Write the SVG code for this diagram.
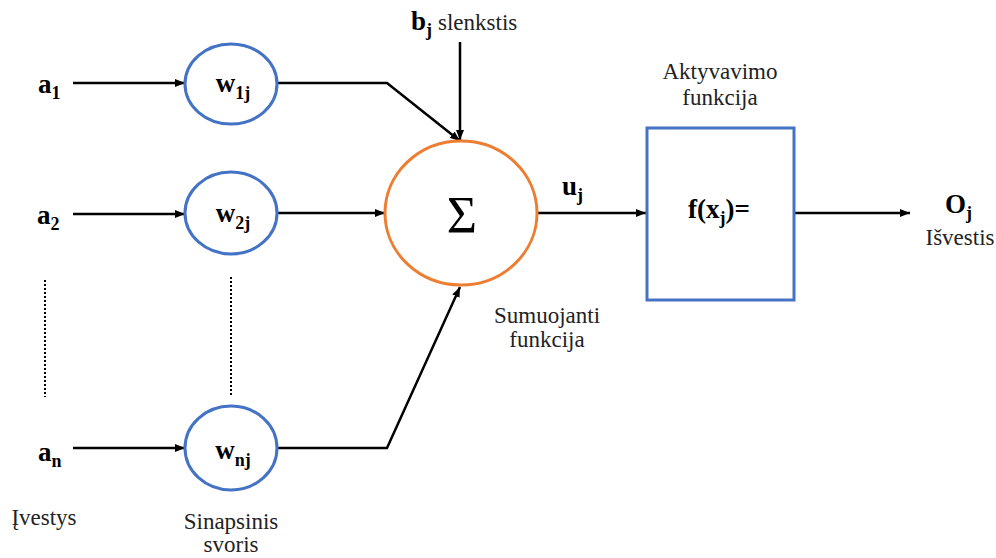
<svg xmlns="http://www.w3.org/2000/svg" width="996" height="558" viewBox="0 0 996 558">
<defs>
<marker id="ah" viewBox="0 0 10 8" refX="10" refY="4" markerWidth="10" markerHeight="8" markerUnits="userSpaceOnUse" orient="auto">
<path d="M0,0 L10,4 L0,8 Z" fill="#000"/>
</marker>
<style>
.wc{fill:#fff;stroke:#4472C4;stroke-width:3}
.sc{fill:#fff;stroke:#ED7D31;stroke-width:3}
.box{fill:#fff;stroke:#4472C4;stroke-width:3}
.ln{fill:none;stroke:#000;stroke-width:2.5}
.arr{fill:none;stroke:#000;stroke-width:2.5;marker-end:url(#ah)}
.dot{fill:none;stroke:#000;stroke-width:2;stroke-dasharray:2 2}
.b{font-family:'Liberation Serif','DejaVu Serif','Times New Roman',serif;font-weight:bold;font-size:27px;fill:#000}
.r{font-family:'Liberation Serif','DejaVu Serif','Times New Roman',serif;font-size:23px;fill:#222}
.g{font-family:'Liberation Serif','DejaVu Serif','Times New Roman',serif;font-size:52px;fill:#000}
.s{font-size:18px}
</style>
</defs>
<rect width="996" height="558" fill="#fff"/>
<g id="connectors">
<line class="arr" x1="73" y1="83" x2="185" y2="83"/>
<line class="arr" x1="73" y1="214" x2="185" y2="214"/>
<line class="arr" x1="73" y1="448" x2="185" y2="448"/>
<polyline class="arr" points="277,83 387,83 460,141"/>
<line class="arr" x1="277" y1="213" x2="385" y2="213"/>
<polyline class="arr" points="277,448 387,448 460,287"/>
<line class="arr" x1="460" y1="42" x2="460" y2="140"/>
<line class="arr" x1="537" y1="213" x2="646" y2="213"/>
<line class="arr" x1="794" y1="213" x2="910" y2="213"/>
<line class="dot" x1="45" y1="280" x2="45" y2="397"/>
<line class="dot" x1="231" y1="277" x2="231" y2="395"/>
</g>
<g id="a1"><text class="b" x="38" y="93">a<tspan class="s" dy="6">1</tspan></text></g>
<g id="a2"><text class="b" x="37" y="224">a<tspan class="s" dy="6">2</tspan></text></g>
<g id="an"><text class="b" x="38" y="461">a<tspan class="s" dy="6">n</tspan></text></g>
<g id="w1j"><ellipse class="wc" cx="231" cy="84" rx="46" ry="40"/><text class="b" x="233" y="92" text-anchor="middle">w<tspan class="s" dy="7">1j</tspan></text></g>
<g id="w2j"><ellipse class="wc" cx="231" cy="213" rx="46" ry="41"/><text class="b" x="233" y="222" text-anchor="middle">w<tspan class="s" dy="7">2j</tspan></text></g>
<g id="wnj"><ellipse class="wc" cx="231" cy="448" rx="46" ry="42"/><text class="b" x="233" y="459" text-anchor="middle">w<tspan class="s" dy="7">nj</tspan></text></g>
<g id="sum"><ellipse class="sc" cx="461" cy="213" rx="76" ry="72"/><text class="g" x="462" y="233" text-anchor="middle">Σ</text></g>
<g id="bias"><text class="b" x="411" y="30">b<tspan class="s" dy="6">j</tspan></text><text class="r" x="438" y="30">slenkstis</text></g>
<g id="uj"><text class="b" x="562" y="195">u<tspan class="s" dy="6">j</tspan></text></g>
<g id="activation"><rect class="box" x="647" y="128" width="147" height="172"/><text class="b" x="688" y="218">f(x<tspan class="s" dy="6">j</tspan><tspan dy="-6">)=</tspan></text></g>
<g id="output"><text class="b" x="945" y="213">O<tspan class="s" dy="6">j</tspan></text><text class="r" x="960" y="245" text-anchor="middle">Išvestis</text></g>
<g id="labels">
<text class="r" x="720" y="79" text-anchor="middle">Aktyvavimo</text>
<text class="r" x="720" y="105" text-anchor="middle">funkcija</text>
<text class="r" x="547" y="323" text-anchor="middle">Sumuojanti</text>
<text class="r" x="547" y="347" text-anchor="middle">funkcija</text>
<text class="r" x="44" y="525" text-anchor="middle">Įvestys</text>
<text class="r" x="231" y="529" text-anchor="middle">Sinapsinis</text>
<text class="r" x="231" y="552" text-anchor="middle">svoris</text>
</g>
</svg>
